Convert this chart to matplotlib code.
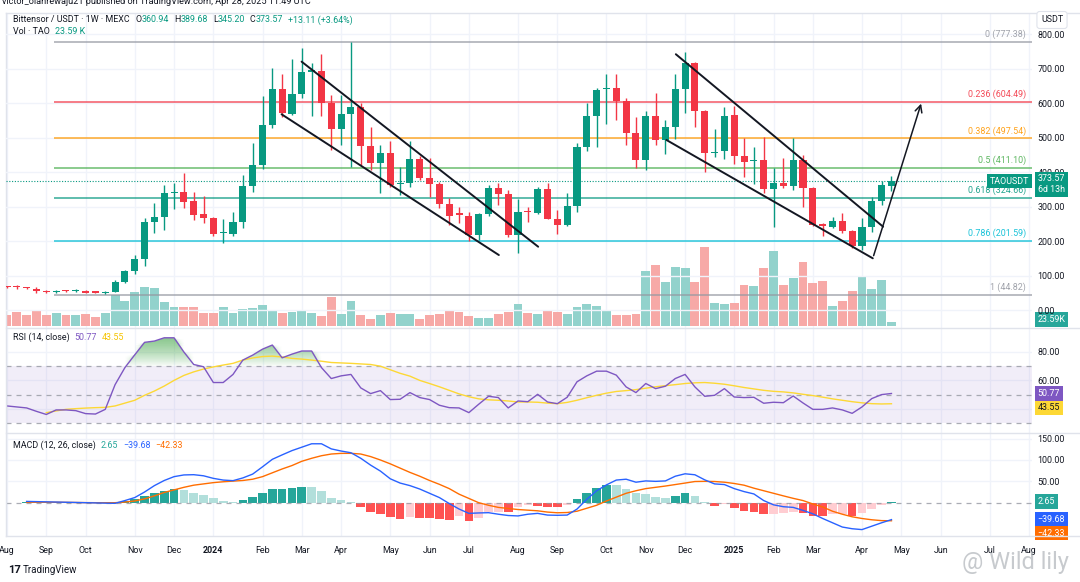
import numpy as np
import matplotlib
matplotlib.use("Agg")
import matplotlib.pyplot as plt
from matplotlib.lines import Line2D

plt.rcParams['font.family'] = ['Roboto', 'DejaVu Sans']

W, H, DPI = 1080, 582, 100

# --- weekly candles TAO/USDT (MEXC), bar 0 = week of 2023-08-07 ---
opens = [67, 68, 66, 62, 56, 51, 56, 55, 56, 52,
         48, 53, 81, 112, 149, 254, 269, 339, 343, 315,
         277, 268, 222, 220, 255, 360, 420, 537, 640, 568,
         627, 691, 693, 601, 524, 568, 588, 476, 425, 456,
         364, 367, 437, 382, 365, 307, 279, 273, 218, 278,
         353, 336, 218, 287, 282, 350, 265, 247, 302, 472,
         563, 640, 643, 607, 512, 435, 563, 493, 530, 640,
         715, 577, 455, 462, 565, 447, 431, 435, 352, 367,
         360, 435, 355, 247, 242, 258, 229, 186, 240, 317,
         360.94]
highs = [70, 72, 67, 67, 58, 58, 59, 60, 57, 53,
         54, 87, 116, 161, 266, 311, 362, 367, 398, 341,
         332, 271, 264, 284, 392, 483, 621, 701, 683, 727,
         759, 717, 742, 623, 623, 777.38, 599, 532, 478, 491,
         416, 491, 447, 440, 372, 324, 298, 285, 282, 362,
         369, 348, 321, 300, 358, 367, 290, 338, 485, 601,
         643, 684, 683, 614, 559, 577, 628, 551, 683, 749,
         718, 580, 525, 588, 590, 498, 472, 501, 411, 440,
         498, 450, 358, 251, 271, 282, 232, 266, 329, 375,
         389.68]
lows = [64, 62, 62, 50, 49, 49, 52, 53, 49, 48,
        47, 51, 78, 104, 128, 224, 232, 294, 297, 261,
        251, 216, 195, 216, 237, 343, 408, 527, 559, 566,
        616, 563, 562, 464, 478, 416, 420, 406, 340, 357,
        333, 357, 377, 329, 295, 246, 253, 201, 203, 272,
        304, 211, 164, 256, 278, 263, 220, 245, 285, 462,
        474, 539, 551, 478, 411, 406, 478, 452, 495, 570,
        532, 401, 443, 437, 423, 387, 365, 338, 240, 353,
        348, 300, 244, 215, 237, 224, 179, 174, 227, 305,
        345.20]
closes = [66, 67, 64, 56, 51, 55, 54, 57, 50, 50,
          52, 80, 112, 149, 255, 270, 338, 343, 314, 276,
          268, 220, 225, 254, 360, 421, 537, 640, 570, 627,
          690, 694, 601, 524, 568, 588, 476, 425, 456, 362,
          367, 437, 382, 364, 307, 273, 276, 218, 278, 353,
          336, 218, 285, 284, 350, 265, 247, 302, 472, 563,
          638, 642, 607, 512, 435, 563, 493, 530, 640, 715,
          577, 454, 458, 563, 447, 428, 434, 351, 367, 360,
          435, 355, 247, 245, 258, 229, 186, 240, 317, 362,
          373.57]
volume_k = [76, 95, 76, 112, 76, 89, 74, 74, 84, 62,
            91, 217, 177, 239, 279, 270, 167, 136, 136, 136,
            89, 89, 134, 89, 122, 125, 148, 109, 91, 100,
            109, 93, 72, 207, 86, 174, 79, 48, 77, 93,
            81, 86, 50, 74, 86, 109, 98, 69, 55, 55,
            81, 98, 157, 91, 86, 109, 98, 81, 134, 152,
            143, 109, 74, 74, 86, 391, 431, 312, 420, 415,
            310, 563, 164, 152, 164, 291, 281, 413, 534, 291,
            338, 458, 307, 320, 143, 177, 250, 358, 260, 329,
            23.59]

nan = np.nan
rsi = [42, 41.3, 40.6, 38.2, 36, 39.2, 39.2, 38.7, 36.6, 36.3,
       39.6, 57, 69, 78, 86.8, 87.7, 90, 90, 80, 71.2,
       69.6, 58.5, 58.5, 64.2, 74.3, 77.8, 82, 84.9, 75.9, 78.5,
       80.7, 80.7, 69, 61.3, 63.2, 64.2, 54.7, 50.7, 52.8, 46.5,
       46.7, 51.4, 47.9, 46.5, 42.5, 40.8, 40.6, 37.3, 43.2, 48.8,
       47.9, 40.6, 45.5, 45, 50.2, 44.8, 43.6, 48.1, 59, 63.2,
       66.5, 66.5, 63.7, 55.4, 51.4, 57.8, 54.2, 55.9, 61.3, 64.2,
       55.4, 48.8, 49.5, 54.2, 48.3, 47.9, 48.1, 43.9, 44.6, 44.3,
       49, 44.1, 39.6, 39.6, 40.6, 39.2, 36.8, 41.3, 47.2, 50,
       50.77]
rsi_ma = [nan, nan, nan, nan, 37.3, 38.5, 39.6, 40.1, 40.5, 40.8,
          41, 42, 44, 46, 49.5, 52.5, 56, 60, 63.5, 66,
          68, 69.5, 70.8, 72, 74.3, 75.8, 76.8, 77.1, 76.5, 75.5,
          75, 74.3, 73.5, 72.6, 72.3, 72, 71.6, 71.2, 70, 67.5,
          65, 63, 60, 57.8, 55.5, 53, 50.5, 48.5, 47, 46.3,
          46, 45.5, 44.8, 44.8, 44.6, 44, 43.6, 44.5, 46, 47.8,
          49.5, 51, 52.2, 52.8, 53.5, 54.5, 55.5, 56.3, 57, 57.8,
          58.3, 58.5, 58, 57.3, 56.2, 55, 54, 53, 52.3, 51.9,
          51.2, 50.2, 49.3, 48.2, 47, 46, 45, 44.2, 43.6, 43.4,
          43.55]
macd = [nan, nan, 3, 2.5, 2, 1.5, 1, 0.5, 0, -0.5,
        -1, -1.5, 5, 12, 25, 40, 52, 61, 65, 65.6,
        63, 57, 53, 51.6, 58, 67, 84, 101.6, 112, 122,
        130, 138, 138, 126, 121, 117, 104, 88, 74, 56,
        46, 40, 32, 22, 12, -2, -14.8, -25, -24, -23.4,
        -27, -30, -31, -27, -25, -29, -29.5, -29, -15, 8,
        28, 41.7, 53, 55, 48, 51, 50, 51, 62, 67.7,
        65.4, 53.5, 44, 42.5, 33, 26, 20.5, 5, -5, -9.4,
        -11, -18, -26, -37, -47, -57, -61, -63, -55, -47,
        -39.68]
signal = [nan, nan, 1, 1, 1, 1, 0.8, 0.5, 0.2, 0,
          0, 0, 1.5, 4, 9, 16, 24, 30, 36, 41,
          44, 47, 49, 50.5, 52, 55, 61, 70, 79, 87,
          97, 104, 110, 114, 115.5, 115.6, 114, 108, 100, 91,
          81, 71, 62, 52, 43, 33, 20, 10, 0, -6,
          -11, -13.5, -16, -17.5, -19, -22, -23.6, -23, -20, -13,
          -6, 4, 13, 22, 28, 33, 36, 39, 42.5, 46,
          49.6, 50, 49.6, 48, 45, 41, 34, 28, 22, 16,
          10.2, 5, -3, -10, -20, -27, -33, -37, -40, -42,
          -42.33]
hist = [0, 0, 0.5, 0.3, 0.2, 0.1, 0, 0, -0.3, -0.5,
        -1, -1.5, 3.5, 7.8, 16.4, 22, 28, 31, 29.7, 23.4,
        18, 11.7, 4.7, 1.6, 6.3, 12.5, 23.4, 32.8, 32.8, 35,
        37.5, 36, 26.6, 11.7, 5.5, 1.6, -9.4, -22, -26.6, -34.4,
        -38.3, -34.4, -35, -36.7, -38.3, -40.6, -31, -42, -36.7, -21,
        -21, -22.6, -11, -6, -8, -9.4, -9.6, -5.5, 8.7, 22,
        35.4, 41.7, 41, 31.5, 22, 19.7, 12.6, 10.2, 15.7, 22,
        15.7, 1.6, -7.9, -3, -13.4, -19, -21.3, -27.6, -27.6, -23.6,
        -22.8, -23.6, -31.5, -31.6, -27.6, -27.5, -31.5, -25, -15.7, -5.5,
        2.65]

month_ticks = [0, 4, 8, 13, 17, 21, 26, 30, 34, 39, 43, 47, 52, 56, 61, 65,
               69, 74, 78, 82, 87, 91, 95, 100, 104]
month_labels = ['Aug', 'Sep', 'Oct', 'Nov', 'Dec', '2024', 'Feb', 'Mar', 'Apr',
                'May', 'Jun', 'Jul', 'Aug', 'Sep', 'Oct', 'Nov', 'Dec', '2025',
                'Feb', 'Mar', 'Apr', 'May', 'Jun', 'Jul', 'Aug']

fib_labels = ['0', '0.236', '0.382', '0.5', '0.618', '0.786', '1']
fib_prices = [777.38, 604.49, 497.54, 411.10, 324.66, 201.59, 44.82]
fib_colors = ['#9598a1', '#f23645', '#ff9800', '#4caf50', '#089981', '#00bcd4', '#9598a1']
fib_start = 4.8

# hand-drawn channel lines (bar index, price)
trend_x = [[29.98, 54.05], [27.94, 50.05], [68.06, 89.15], [67.1, 88.1]]
trend_y = [[720, 183.6], [567.5, 159.5], [741.5, 241.6], [493, 150]]
arrow_x = [88.1, 93.1]
arrow_y = [150, 606]

# --- style ---
UP, DOWN = '#089981', '#f23645'
VOL_UP, VOL_DOWN = '#92d2cc', '#f7a9a7'
TEXT = '#131722'
GRID = '#f0f3fa'
SEP = '#e0e3eb'
FS = 6.4

o, h, l, c = map(np.array, (opens, highs, lows, closes))
x = np.arange(len(c))
up = c >= o

fig = plt.figure(figsize=(W / DPI, H / DPI), dpi=DPI)


def pane(top, bottom):
    return [6 / W, 1 - bottom / H, 1026 / W, (bottom - top) / H]


ax_vol = fig.add_axes(pane(13, 328), zorder=1)
ax = fig.add_axes(pane(13, 328), zorder=2, sharex=ax_vol)
ax.patch.set_visible(False)
ax_rsi = fig.add_axes(pane(328, 432.5), sharex=ax_vol)
ax_macd = fig.add_axes(pane(432.5, 536), sharex=ax_vol)

ax_vol.set_xlim(-0.1, 104.3)
for a in (ax_vol, ax, ax_rsi, ax_macd):
    for s in a.spines.values():
        s.set_visible(False)
    a.tick_params(length=0, labelsize=FS, labelcolor=TEXT)
    a.set_xticks(month_ticks)
    a.tick_params(axis='x', labelbottom=False)
for a in (ax_vol, ax_rsi, ax_macd):
    a.grid(axis='x', color=GRID, lw=1)
    a.set_axisbelow(True)

# volume
ax_vol.bar(x, volume_k, width=0.9, color=np.where(up, VOL_UP, VOL_DOWN), lw=0)
ax_vol.set_ylim(-16.4, 2236)
ax_vol.set_yticks([])

# price pane
ax.set_ylim(-52, 861)
ax.set_yticks(range(0, 900, 100))
ax.set_yticklabels([f'{v:.2f}' for v in range(0, 900, 100)])
ax.yaxis.tick_right()
ax.tick_params(axis='y', pad=4)
ax.grid(axis='y', color=GRID, lw=1, zorder=0)

for p, lab, col in zip(fib_prices, fib_labels, fib_colors):
    ax.hlines(p, fib_start, 104.3, color=col, lw=1.3, alpha=0.7, zorder=2)
    ax.annotate(f'{lab} ({p:.2f})', (103.7, p), xytext=(0, 2), textcoords='offset points',
                ha='right', va='bottom', fontsize=FS, color=col, alpha=0.9)

ax.axhline(closes[-1], color=UP, lw=0.8, ls=(0, (1, 1.5)), zorder=2)

ccol = np.where(up, UP, DOWN)
ax.vlines(x, l, h, colors=ccol, lw=1, zorder=3)
ax.bar(x, np.maximum(np.abs(c - o), 4), bottom=np.minimum(o, c), width=0.72,
       color=ccol, lw=0, zorder=4)

for tx, ty in zip(trend_x, trend_y):
    ax.plot(tx, ty, color=TEXT, lw=1.4, zorder=5, solid_capstyle='round')
ax.annotate('', xy=(arrow_x[1], arrow_y[1]), xytext=(arrow_x[0], arrow_y[0]),
            arrowprops=dict(arrowstyle='->,head_length=0.5,head_width=0.25',
                            color=TEXT, lw=1.1), zorder=5)

ax.annotate('TAOUSDT', (1, closes[-1]), xycoords=('axes fraction', 'data'),
            xytext=(-2, 0), textcoords='offset points', ha='right', va='center',
            fontsize=FS, color='white',
            bbox=dict(boxstyle='square,pad=0.3', fc=UP, ec='none'), annotation_clip=False)
ax.annotate(f'{closes[-1]:.2f}\n6d 13h', (1, closes[-1]), xycoords=('axes fraction', 'data'),
            xytext=(4, 5), textcoords='offset points', ha='left', va='top',
            fontsize=FS, color='white', linespacing=1.25,
            bbox=dict(boxstyle='square,pad=0.3', fc=UP, ec='none'), annotation_clip=False)
ax_vol.annotate(f'{volume_k[-1]:.2f}K', (1, volume_k[-1]), xycoords=('axes fraction', 'data'),
                xytext=(4, 2), textcoords='offset points', ha='left', va='center',
                fontsize=FS, color='white',
                bbox=dict(boxstyle='square,pad=0.3', fc='#26a69a', ec='none'),
                annotation_clip=False)

# RSI pane
ax_rsi.set_ylim(23.3, 96.9)
ax_rsi.axhspan(30, 70, color='#7e57c2', alpha=0.1, lw=0)
for lv in (70, 50, 30):
    ax_rsi.axhline(lv, color='#9598a1', lw=0.9, ls=(0, (4, 4)), alpha=0.8)
rsi_a = np.array(rsi)
for lv in np.arange(70, 91, 1.0):
    ax_rsi.fill_between(x, lv, np.maximum(rsi_a, lv), where=rsi_a > lv,
                        interpolate=True, color='#4caf50', alpha=0.045, lw=0)
ax_rsi.plot(x, rsi_ma, color='#fdd835', lw=1)
ax_rsi.plot(x, rsi, color='#7e57c2', lw=1)
ax_rsi.set_yticks([40, 60, 80])
ax_rsi.set_yticklabels(['40.00', '60.00', '80.00'])
ax_rsi.yaxis.tick_right()
ax_rsi.tick_params(axis='y', pad=4)
ax_rsi.grid(axis='y', color=GRID, lw=1)

ax_rsi.annotate(f'{rsi[-1]:.2f}', (1, rsi[-1]), xycoords=('axes fraction', 'data'),
                xytext=(4, 0), textcoords='offset points', ha='left', va='center',
                fontsize=FS, color='white',
                bbox=dict(boxstyle='square,pad=0.3', fc='#7e57c2', ec='none'), annotation_clip=False)
ax_rsi.annotate(f'{rsi_ma[-1]:.2f}', (1, rsi_ma[-1]), xycoords=('axes fraction', 'data'),
                xytext=(4, -3), textcoords='offset points', ha='left', va='center',
                fontsize=FS, color=TEXT,
                bbox=dict(boxstyle='square,pad=0.3', fc='#fdd835', ec='none'), annotation_clip=False)

# MACD pane
hcol = []
for i, v in enumerate(hist):
    prev = hist[i - 1] if i else 0
    if v >= 0:
        hcol.append('#26a69a' if v >= prev else '#b2dfdb')
    else:
        hcol.append('#ff5252' if v < prev else '#ffcdd2')
ax_macd.set_ylim(-78, 164.4)
ax_macd.axhline(0, color='#9598a1', lw=0.9, ls=(0, (4, 4)), alpha=0.8)
ax_macd.bar(x, hist, width=0.88, color=hcol, lw=0)
ax_macd.plot(x, signal, color='#ff6d00', lw=1)
ax_macd.plot(x, macd, color='#2962ff', lw=1)
ax_macd.set_yticks([50, 100, 150])
ax_macd.set_yticklabels(['50.00', '100.00', '150.00'])
ax_macd.yaxis.tick_right()
ax_macd.tick_params(axis='y', pad=4)
ax_macd.grid(axis='y', color=GRID, lw=1)

for val, off, fc in ((hist[-1], 0, '#26a69a'), (macd[-1], 0, '#2962ff'), (signal[-1], -9, '#ff6d00')):
    ax_macd.annotate(f'{val:.2f}'.replace('-', '\u2212'), (1, val), xycoords=('axes fraction', 'data'),
                     xytext=(4, off), textcoords='offset points', ha='left', va='center',
                     fontsize=FS, color='white',
                     bbox=dict(boxstyle='square,pad=0.3', fc=fc, ec='none'), annotation_clip=False)

ax_macd.tick_params(axis='x', labelbottom=True, pad=7)
ax_macd.set_xticklabels(month_labels)
for t in ax_macd.get_xticklabels():
    if t.get_text() in ('2024', '2025'):
        t.set_fontweight('bold')

# separators and frame
for yy in (13, 328, 432.5, 536):
    fig.add_artist(Line2D([6 / W, 1], [1 - yy / H] * 2, color=SEP, lw=1))
fig.add_artist(Line2D([6 / W] * 2, [1 - 13 / H, 1 - 536 / H], color=SEP, lw=1))

# text
rend = fig.canvas.get_renderer()


def write_parts(x_px, y_px, parts, size=FS):
    for s, col, gap in parts:
        t = fig.text(x_px / W, 1 - y_px / H, s, color=col, fontsize=size, ha='left', va='center')
        x_px += t.get_window_extent(rend).width + gap


fig.text(2 / W, 1 - 2 / H, 'victor_olanrewaju21 published on TradingView.com, Apr 28, 2025 11:49 UTC',
         fontsize=6.6, color=TEXT, ha='left', va='center')
write_parts(13, 20, [('Bittensor / USDT \u00b7 1W \u00b7 MEXC', TEXT, 6),
                     ('O', TEXT, 0), (f'{opens[-1]:.2f}', UP, 5),
                     ('H', TEXT, 0), (f'{highs[-1]:.2f}', UP, 5),
                     ('L', TEXT, 0), (f'{lows[-1]:.2f}', UP, 5),
                     ('C', TEXT, 0), (f'{closes[-1]:.2f}', UP, 5),
                     ('+13.11 (+3.64%)', UP, 0)])
write_parts(13, 32, [('Vol \u00b7 TAO', TEXT, 5), (f'{volume_k[-1]:.2f} K', UP, 0)])
write_parts(13, 337, [('RSI (14, close)', TEXT, 5), (f'{rsi[-1]:.2f}', '#7e57c2', 5),
                      (f'{rsi_ma[-1]:.2f}', '#f5c400', 0)])
write_parts(13, 445, [('MACD (12, 26, close)', TEXT, 5), (f'{hist[-1]:.2f}', '#26a69a', 5),
                      (f'{macd[-1]:.2f}'.replace('-', '\u2212'), '#2962ff', 5),
                      (f'{signal[-1]:.2f}'.replace('-', '\u2212'), '#ff6d00', 0)])

fig.text(1052 / W, 1 - 20 / H, 'USDT', fontsize=FS, color=TEXT, ha='center', va='center',
         bbox=dict(boxstyle='round,pad=0.45,rounding_size=0.3', fc='white', ec=SEP, lw=0.8))

fig.text(8 / W, 1 - 570 / H, '17', fontsize=8, fontweight='bold', color=TEXT, ha='left', va='center')
fig.text(23 / W, 1 - 570 / H, 'TradingView', fontsize=7, color=TEXT, ha='left', va='center')
fig.text(962 / W, 1 - 563 / H, '@ Wild lily', fontsize=17, color='#9aa0a6', alpha=0.55,
         ha='left', va='center')

fig.savefig('out.png', dpi=DPI, facecolor='white')
